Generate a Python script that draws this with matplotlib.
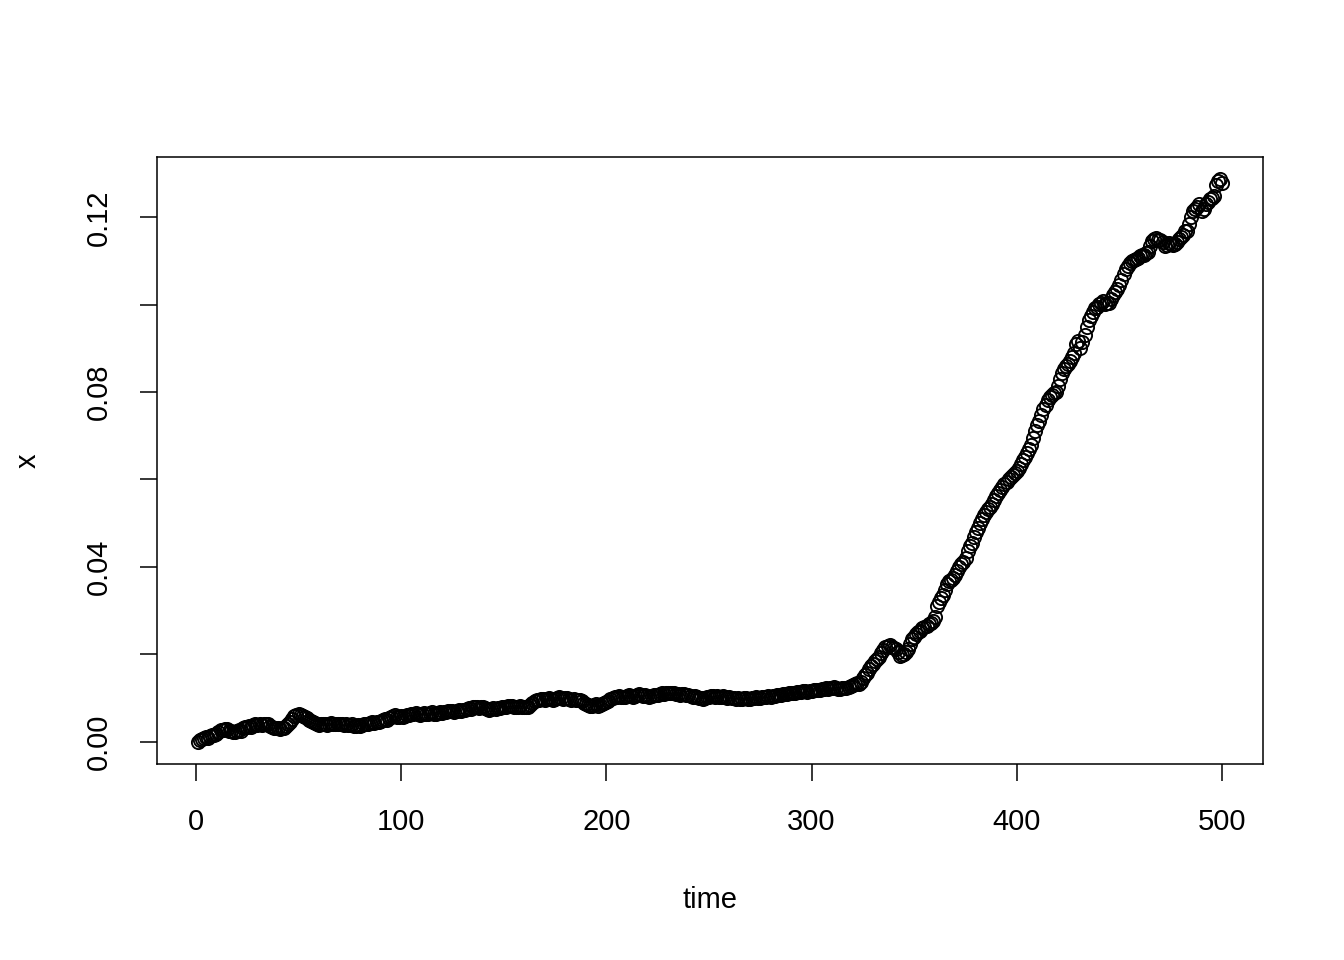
import numpy as np
import matplotlib
matplotlib.use('Agg')
import matplotlib.pyplot as plt

# values, in thousandths, for time = 1..500
x_milli = [
    0.0, 0.3, 0.6, 0.8, 1.0, 0.9, 1.2, 1.4, 1.5, 1.8,
    2.2, 2.7, 2.6, 2.9, 2.8, 2.5, 2.4, 2.2, 2.1, 2.3,
    2.6, 2.5, 3.0, 3.3, 3.3, 3.5, 3.4, 3.7, 3.9, 3.8,
    4.0, 3.7, 3.9, 4.1, 3.9, 3.6, 3.4, 3.1, 3.0, 3.0,
    2.9, 3.2, 3.2, 3.6, 4.0, 4.5, 5.1, 5.8, 6.0, 6.2,
    6.0, 5.8, 5.6, 5.4, 5.0, 4.8, 4.5, 4.2, 3.9, 3.8,
    3.9, 4.1, 4.0, 3.8, 4.0, 4.2, 4.1, 4.0, 3.9, 4.1,
    4.0, 3.8, 3.9, 3.7, 3.8, 3.9, 3.6, 3.5, 3.7, 3.6,
    3.8, 4.0, 3.9, 4.1, 4.2, 4.4, 4.3, 4.5, 4.4, 4.6,
    4.9, 5.1, 5.0, 5.4, 5.6, 5.9, 6.0, 5.7, 5.5, 5.8,
    5.6, 5.9, 6.1, 6.0, 6.3, 6.2, 6.5, 6.3, 6.1, 6.4,
    6.6, 6.4, 6.2, 6.5, 6.7, 6.4, 6.3, 6.5, 6.7, 6.6,
    6.8, 6.7, 6.9, 7.1, 7.0, 6.8, 7.0, 7.2, 7.1, 7.3,
    7.2, 7.4, 7.6, 7.5, 7.8, 8.0, 7.9, 7.7, 7.8, 7.8,
    7.6, 7.5, 7.3, 7.4, 7.6, 7.5, 7.7, 7.6, 7.8, 7.8,
    8.0, 8.2, 8.1, 8.1, 7.9, 7.8, 8.0, 8.2, 8.0, 7.9,
    7.8, 7.9, 8.4, 8.9, 9.3, 9.6, 9.5, 9.8, 9.7, 9.6,
    9.8, 9.9, 9.7, 9.6, 9.8, 10.0, 10.1, 10.0, 9.8, 9.9,
    10.0, 9.8, 9.6, 9.7, 9.5, 9.4, 9.6, 9.3, 8.9, 8.6,
    8.4, 8.2, 8.1, 8.3, 8.5, 8.2, 8.4, 8.6, 8.8, 9.0,
    9.3, 9.8, 10.0, 10.2, 10.1, 10.4, 10.3, 10.1, 10.3, 10.4,
    10.6, 10.5, 10.3, 10.5, 10.7, 10.8, 10.6, 10.4, 10.6, 10.5,
    10.3, 10.5, 10.7, 10.6, 10.6, 10.8, 11.0, 10.9, 11.1, 11.2,
    11.2, 11.0, 11.1, 10.9, 10.8, 10.7, 10.9, 10.8, 10.6, 10.6,
    10.4, 10.3, 10.5, 10.2, 10.0, 9.9, 9.8, 9.9, 10.1, 10.3,
    10.4, 10.5, 10.3, 10.4, 10.2, 10.3, 10.4, 10.2, 10.0, 10.1,
    10.0, 9.9, 9.8, 10.0, 9.8, 9.7, 9.9, 10.0, 9.8, 9.7,
    9.9, 10.0, 10.1, 9.9, 10.0, 10.2, 10.1, 10.2, 10.4, 10.3,
    10.5, 10.4, 10.6, 10.7, 10.6, 10.8, 10.9, 10.9, 11.1, 11.0,
    11.2, 11.1, 11.3, 11.4, 11.3, 11.5, 11.6, 11.4, 11.6, 11.6,
    11.8, 11.9, 11.7, 11.9, 12.1, 12.0, 12.2, 12.1, 12.3, 12.2,
    12.4, 12.2, 12.0, 12.1, 12.3, 12.2, 12.2, 12.4, 12.6, 12.9,
    13.1, 13.3, 13.2, 13.6, 14.5, 15.3, 15.8, 16.5, 17.2, 17.8,
    18.4, 18.9, 19.3, 20.2, 21.0, 21.6, 21.8, 22.0, 21.7, 21.5,
    21.2, 20.4, 19.5, 19.8, 20.1, 20.5, 21.3, 22.4, 23.5, 24.0,
    24.6, 25.0, 25.4, 25.9, 26.3, 26.5, 26.8, 27.2, 27.5, 28.6,
    31.0, 32.0, 32.8, 33.5, 34.6, 36.0, 36.7, 37.0, 37.5, 38.2,
    39.0, 40.0, 40.6, 41.2, 42.0, 43.6, 44.8, 45.5, 46.9, 48.0,
    49.0, 50.1, 51.0, 51.8, 52.5, 53.2, 53.8, 54.5, 55.4, 56.2,
    56.9, 57.5, 58.2, 58.9, 59.5, 60.0, 60.6, 61.0, 61.5, 62.0,
    62.7, 63.5, 64.5, 65.2, 66.0, 67.0, 68.0, 69.5, 71.0, 72.4,
    73.5, 74.8, 76.1, 77.0, 78.2, 79.0, 79.4, 79.8, 80.0, 81.5,
    83.0, 84.5, 85.3, 86.0, 86.5, 87.2, 88.0, 89.0, 91.0, 91.8,
    90.0, 91.5, 93.0, 95.0, 96.5, 97.5, 98.4, 99.3, 99.5, 100.2,
    100.5, 100.8, 100.3, 100.5, 100.5, 101.4, 102.2, 103.0, 103.6, 104.5,
    105.6, 107.0, 108.2, 108.9, 109.5, 110.0, 110.3, 110.5, 110.8, 111.2,
    111.5, 111.3, 111.8, 112.0, 113.5, 114.5, 115.0, 115.2, 114.9, 114.8,
    114.4, 113.5, 113.8, 114.2, 114.0, 113.6, 114.0, 114.3, 115.0, 115.5,
    116.0, 116.8, 117.0, 118.5, 120.0, 121.4, 122.0, 122.5, 123.0, 121.5,
    122.0, 123.0, 123.5, 124.2, 124.5, 125.0, 127.5, 128.4, 128.7, 128.0,
]
time = np.arange(1, len(x_milli) + 1)
x = np.array(x_milli) / 1000.0

xticks = [0, 100, 200, 300, 400, 500]
yticks = [0.00, 0.02, 0.04, 0.06, 0.08, 0.10, 0.12]
ytick_labels = ['0.00', '', '0.04', '', '0.08', '', '0.12']

plt.rcParams['font.family'] = ['Liberation Sans', 'DejaVu Sans']

W, H = 1344, 960
fig = plt.figure(figsize=(W / 100, H / 100), dpi=100)
# axes box in pixel terms (left, top, right, bottom)
l, t, r, b = 157, 157, 1263, 764
ax = fig.add_axes([l / W, 1 - b / H, (r - l) / W, (b - t) / H])

ax.plot(time, x, linestyle='none', marker='o', markersize=9.5,
        markerfacecolor='none', markeredgecolor='black', markeredgewidth=1.35)

# R style 4% padding
xr = time.max() - time.min()
ax.set_xlim(time.min() - 0.04 * xr, time.max() + 0.04 * xr)
yr = x.max() - x.min()
ax.set_ylim(x.min() - 0.04 * yr, x.max() + 0.04 * yr)

ax.set_xticks(xticks)
ax.set_xticklabels([str(v) for v in xticks])
ax.set_yticks(yticks)
ax.set_yticklabels(ytick_labels, rotation=90, va='center')

ax.tick_params(axis='both', length=12, width=1.1, labelsize=21, pad=20, color='black')
for s in ax.spines.values():
    s.set_linewidth(1.1)

fig.text((l + r) / 2 / W, 1 - 900 / H, 'time', ha='center', va='center', fontsize=21)
fig.text(28 / W, 1 - ((t + b) / 2) / H, 'x', ha='center', va='center', fontsize=21, rotation=90)

fig.savefig('out.png', dpi=100)
